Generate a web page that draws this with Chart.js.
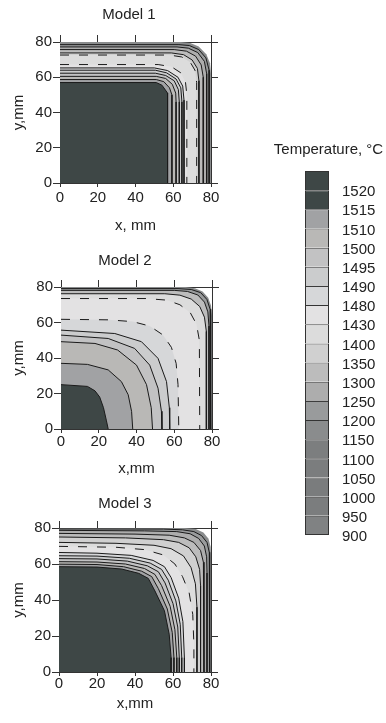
<!DOCTYPE html>
<html><head><meta charset="utf-8">
<script src="https://cdn.jsdelivr.net/npm/chart.js@4.4.1/dist/chart.umd.min.js"></script>
<style>
html,body{margin:0;padding:0;background:#fff;width:386px;height:723px;overflow:hidden;}
canvas{position:absolute;display:block;}
</style></head><body>
<canvas id="m1" style="left:0;top:0" width="258" height="240"></canvas>
<canvas id="m2" style="left:0;top:240px" width="250" height="240"></canvas>
<canvas id="m3" style="left:0;top:480px" width="250" height="243"></canvas>
<canvas id="cb" style="left:271px;top:130px" width="115" height="420"></canvas>
<script>
// ---- colour-bar levels (top to bottom) ----
const levels = [1520,1515,1510,1500,1495,1490,1480,1430,1400,1350,1300,1250,1200,1150,1100,1050,1000,950,900];
const levelColors = ['#3e4746','#3e4746','#a1a2a4','#b9b8b6','#c2c2c3','#cbcccd','#d6d7d9','#e3e2e3','#dcdcdc','#d0d0d0','#bcbcbc','#adadad','#999b9c','#8a8c8d','#7c7e7f','#7b7d7e','#7a7c7d','#7b7d7e','#808283'];
const axisTicks = [0,20,40,60,80];

// ---- Model 1 isotherms (x mm, y mm), innermost first ----
const model1Levels = [1515,1510,1500,1495,1490,1480,1430,1400,1350,1300,1250,1200,1150];
const model1Dashed = [1430,1400];
const model1Contours = [
 [[0,57],[51,57],[54,55.5],[57,51],[57,0]],
 [[0,58.7],[51,58.7],[55,57.5],[58,54],[59.3,50],[59.3,0]],
 [[0,60.5],[51,60.5],[56,59.3],[59.5,56],[61.3,51],[61.5,46],[61.5,0]],
 [[0,62.3],[50.5,62.3],[56,61],[60.5,58],[62.7,53],[63.2,46],[63.2,0]],
 [[0,64],[50.5,64],[56.5,62.5],[61.5,59],[64,54],[64.6,46],[64.6,0]],
 [[0,65.3],[50,65.3],[57,63.8],[62.5,60],[65,55],[65.7,47],[65.7,0]],
 [[0,67.2],[52,67.2],[59,66],[64,62.5],[66.5,57],[67.2,50],[67.2,0]],
 [[0,72.6],[58,72.6],[64.5,71.5],[69,68.5],[71.5,64],[72.4,57],[72.4,0]],
 [[0,73.8],[59,73.8],[65.5,72.8],[70,69.8],[72.8,65],[73.6,58],[73.6,0]],
 [[0,75.7],[60.5,75.7],[67,74.8],[71.8,72],[74.8,67],[75.9,60],[75.9,0]],
 [[0,77.2],[62,77.2],[68,76.5],[73,74],[76.5,69],[77.7,62],[77.7,0]],
 [[0,78.5],[63,78.5],[68.5,78],[73.5,75.7],[77.3,71],[79,64],[79,0]],
 [[0,80],[64,80],[69,79.5],[73.5,77.5],[77.5,73],[79.5,68],[80,62],[80,0]]
];

// ---- Model 2 ----
const model2Levels = [1515,1510,1500,1495,1490,1480,1430,1400,1300,1200,1150];
const model2Dashed = [1480,1430];
const model2Contours = [
 [[0,25],[14,24],[18,21.5],[20.5,18],[22.5,12],[24,5],[25,0]],
 [[0,37],[14,36.4],[25,33.3],[32,26.7],[35.6,19.3],[37.4,9.9],[38,0]],
 [[0,49.2],[18,48.2],[30,44.5],[40,36],[45.3,25],[47.8,12],[48.5,0]],
 [[0,52.9],[25,51],[39,45.4],[47,36],[51.4,23],[53.2,10],[53.5,0]],
 [[0,55.7],[28.5,53.8],[42.6,49.2],[51.4,39.8],[55.9,26.7],[57.4,12],[57.6,0]],
 [[0,61.8],[25,61.5],[38,60.5],[47,58],[54,53],[58.5,46],[61,37],[62,25],[62.4,0]],
 [[0,73.5],[45,73.5],[56,72.6],[63,70],[68.5,65.5],[71.8,59],[73.3,50],[73.5,0]],
 [[0,76.2],[55,76.2],[63,75.4],[69,73.2],[73.5,69],[76,63],[77,55],[77,0]],
 [[0,78.1],[60,78.1],[67,77.5],[72.5,75.5],[76,71.5],[77.8,66],[78.4,58],[78.4,0]],
 [[0,79.1],[62,79.1],[69,78.6],[74,76.8],[77.3,73],[79,67.5],[79.3,60],[79.3,0]],
 [[0,80],[66,80],[71,79.3],[75,77.5],[78,74],[79.5,69.5],[80,64],[80,0]]
];

// ---- Model 3 ----
const model3Levels = [1515,1510,1500,1495,1490,1480,1430,1400,1350,1300,1250,1200,1150];
const model3Dashed = [1430];
const model3Contours = [
 [[0,58.5],[20,58.3],[33,57.2],[42,54.8],[47,52],[50.5,45],[55.5,34],[58,21],[59,8],[59,0]],
 [[0,59.9],[20,59.7],[34,58.5],[43.5,56],[48.8,53],[52.3,46.3],[57,35],[59.6,22],[60.5,8],[60.5,0]],
 [[0,61.3],[20,61.1],[35,60],[45,57.5],[50.5,54.2],[54,48],[58.5,36.5],[61,23.5],[62,8],[62,0]],
 [[0,63],[20,62.8],[36,61.6],[46.5,59],[52.3,55.7],[55.8,49.5],[60,38],[62.5,25],[63.3,8],[63.3,0]],
 [[0,64.6],[20,64.4],[37,63.2],[48,60.5],[54,57],[57.5,51],[61.5,39.5],[63.8,26.5],[64.6,8],[64.6,0]],
 [[0,66.4],[20,66],[38,64.8],[49.5,62],[55.5,58.5],[59,52.5],[63,41],[65.2,28],[66,8],[66,0]],
 [[0,69.8],[30,69.3],[45,68],[55,65],[61,60],[65,53],[68.5,44],[70.4,32],[71,15],[71,0]],
 [[0,72],[30,71.5],[50,70.4],[59,68.5],[65.5,64.5],[69.5,58],[71.8,49],[72.6,36],[72.6,0]],
 [[0,75],[35,74.5],[55,73.5],[63,72],[68.5,69],[72,64],[74,57],[74.5,48],[74.5,0]],
 [[0,77],[40,76.6],[58,76],[66,74.5],[71,72],[74.5,67.5],[76,61],[76.3,50],[76.3,0]],
 [[0,78.7],[45,78.4],[62,78],[69,76.8],[73.5,74.2],[76.5,70],[77.7,64],[77.9,55],[77.9,0]],
 [[0,79.5],[55,79.4],[65,79],[71,78],[75,75.8],[77.9,72],[79.1,66.5],[79.3,58],[79.3,0]],
 [[0,80],[66,80],[72,79.4],[76,77.5],[78.7,74],[79.8,69.5],[80,64],[80,0]]
];

Chart.defaults.font.family = "'Liberation Sans', Arial, Helvetica, sans-serif";
Chart.defaults.color = '#222';

const FONT = {size: 15, weight: 'normal'};
const AXIS_COLOR = '#333';

function levelColor(l) { return levelColors[levels.indexOf(l)]; }

function makePanel(id, title, xTitle, lv, contours, dashed, L) {
  const datasets = contours.map((pts, i) => {
    const isEdge = i === contours.length - 1;
    return {
      data: pts.map(p => ({x: p[0], y: p[1]})),
      showLine: true,
      fill: 'origin',
      tension: 0,
      backgroundColor: levelColor(lv[i]),
      borderColor: isEdge ? levelColor(lv[i]) : '#1a1a1a',
      borderWidth: isEdge ? 0 : 1,
      borderDash: dashed.includes(lv[i]) ? [9, 10] : [],
      pointRadius: 0,
      pointHoverRadius: 0
    };
  });
  const tickCfg = (show, pad) => ({
    display: show, font: FONT, color: '#222', padding: pad, maxRotation: 0, autoSkip: false,
    stepSize: 20
  });
  const ticksFromArray = s => { s.ticks = axisTicks.map(v => ({value: v})); };
  new Chart(document.getElementById(id), {
    type: 'scatter',
    data: {datasets},
    options: {
      responsive: false, animation: false, devicePixelRatio: 1, events: [],
      layout: {padding: 0},
      plugins: {
        legend: {display: false}, tooltip: {enabled: false},
        title: {display: true, text: title, font: FONT, color: '#222', padding: {top: L.tPad, bottom: 0}}
      },
      scales: {
        x: {
          type: 'linear', position: 'bottom', min: 0, max: 80,
          ticks: tickCfg(true, L.xPad), afterBuildTicks: ticksFromArray,
          grid: {drawOnChartArea: false, drawTicks: true, tickLength: 4, color: AXIS_COLOR},
          border: {display: true, color: AXIS_COLOR, width: 1},
          title: {display: true, text: xTitle, font: FONT, color: '#222', padding: {top: 0, bottom: L.xtPad}},
          afterFit: s => { s.height = L.H - L.B; }
        },
        y: {
          type: 'linear', position: 'left', min: 0, max: 80,
          ticks: tickCfg(true, 1), afterBuildTicks: ticksFromArray,
          grid: {drawOnChartArea: false, drawTicks: true, tickLength: 7, color: AXIS_COLOR},
          border: {display: true, color: AXIS_COLOR, width: 1},
          title: {display: true, text: 'y,mm', font: FONT, color: '#222', padding: {top: 10, bottom: 0}},
          afterFit: s => { s.width = L.L; }
        },
        x2: {
          type: 'linear', axis: 'x', position: 'top', min: 0, max: 80,
          ticks: tickCfg(false, 0), afterBuildTicks: ticksFromArray,
          grid: {drawOnChartArea: false, drawTicks: true, tickLength: 7, color: AXIS_COLOR},
          border: {display: true, color: AXIS_COLOR, width: 1},
          afterFit: s => { s.height = L.T - (L.tPad + 18); }
        },
        y2: {
          type: 'linear', axis: 'y', position: 'right', min: 0, max: 80,
          ticks: tickCfg(false, 0), afterBuildTicks: ticksFromArray,
          grid: {drawOnChartArea: false, drawTicks: true, tickLength: 7, color: AXIS_COLOR},
          border: {display: true, color: AXIS_COLOR, width: 1},
          afterFit: s => { s.width = L.W - L.R; }
        }
      }
    }
  });
}

makePanel('m1', 'Model 1', 'x, mm', model1Levels, model1Contours, model1Dashed,
  {W: 258, H: 240, L: 60, R: 211, T: 42, B: 183, tPad: 6, xPad: 2, xtPad: 5});
makePanel('m2', 'Model 2', 'x,mm', model2Levels, model2Contours, model2Dashed,
  {W: 250, H: 240, L: 61, R: 212, T: 47, B: 189, tPad: 12, xPad: 0, xtPad: 2.5});
makePanel('m3', 'Model 3', 'x,mm', model3Levels, model3Contours, model3Dashed,
  {W: 250, H: 243, L: 59, R: 211, T: 48, B: 192, tPad: 15, xPad: -1, xtPad: 10.5});

// ---- colour bar ----
const n = levels.length;
new Chart(document.getElementById('cb'), {
  type: 'bar',
  data: {
    labels: [''],
    datasets: levels.map((lv, i) => ({
      data: [[n - 1 - i, n - i]],
      backgroundColor: levelColors[i],
      borderColor: '#333',
      borderWidth: {top: 1, left: 1, right: 1, bottom: i === n - 1 ? 1 : 0},
      borderSkipped: false,
      grouped: false,
      barPercentage: 1,
      categoryPercentage: 1,
      inflateAmount: 0
    }))
  },
  options: {
    responsive: false, animation: false, devicePixelRatio: 1, events: [],
    layout: {padding: {left: 0, right: 0, top: 0, bottom: 15}},
    plugins: {
      legend: {display: false}, tooltip: {enabled: false},
      title: {display: true, text: 'Temperature, °C', font: FONT, color: '#222', padding: {top: 11, bottom: 12}}
    },
    scales: {
      x: {display: false},
      yl: {
        type: 'linear', axis: 'y', position: 'left', min: 0, max: n,
        ticks: {display: false}, grid: {display: false}, border: {display: false},
        afterFit: s => { s.width = 34; }
      },
      y: {
        position: 'right', min: 0, max: n,
        ticks: {stepSize: 1, autoSkip: false, font: FONT, color: '#222', padding: 5, labelOffset: 2,
          callback: v => (v < n ? String(levels[n - 1 - v]) : '')},
        grid: {display: false},
        border: {display: false},
        afterFit: s => { s.width = 57; }
      }
    }
  }
});
</script>
</body></html>
